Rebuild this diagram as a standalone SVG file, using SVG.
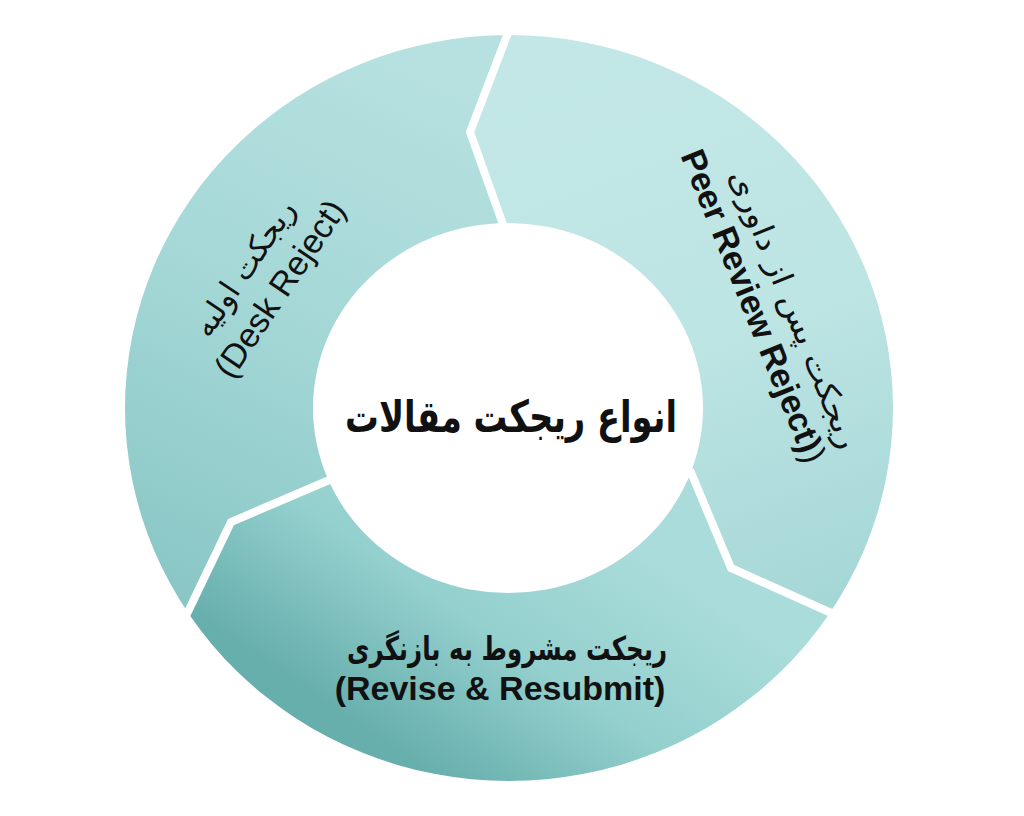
<svg xmlns="http://www.w3.org/2000/svg" width="1024" height="816" viewBox="0 0 1024 816">
  <style>
    .fa { font-family: "DejaVu Sans", "Noto Sans", sans-serif; fill: #111; }
    .en { font-family: "Liberation Sans", Arial, sans-serif; fill: #111; }
    .b { font-weight: bold; }
    .gap { fill: none; stroke: #ffffff; stroke-width: 8; stroke-linejoin: miter; }
  </style>
  <defs>
    <clipPath id="ring">
      <path clip-rule="evenodd" d="M125,408 a384,373 0 1,0 768,0 a384,373 0 1,0 -768,0 Z M313,408 a195,185 0 1,0 390,0 a195,185 0 1,0 -390,0 Z"/>
    </clipPath>
    <linearGradient id="gA" gradientUnits="userSpaceOnUse" x1="620" y1="60" x2="820" y2="600">
      <stop offset="0" stop-color="#c2e7e6"/>
      <stop offset="0.5" stop-color="#bde5e4"/>
      <stop offset="1" stop-color="#a6d7d7"/>
    </linearGradient>
    <linearGradient id="gB" gradientUnits="userSpaceOnUse" x1="640" y1="550" x2="470" y2="800">
      <stop offset="0" stop-color="#a9dcda"/>
      <stop offset="0.5" stop-color="#94d0ce"/>
      <stop offset="1" stop-color="#67afad"/>
    </linearGradient>
    <linearGradient id="gC" gradientUnits="userSpaceOnUse" x1="420" y1="70" x2="170" y2="600">
      <stop offset="0" stop-color="#b6e1e0"/>
      <stop offset="0.5" stop-color="#a3d7d6"/>
      <stop offset="1" stop-color="#88c6c5"/>
    </linearGradient>
  </defs>

  <rect width="1024" height="816" fill="#ffffff"/>

  <g id="segment-peer-review" clip-path="url(#ring)">
    <path fill="url(#gA)" d="M508,408 L504,223 L470,132 L524,-10 L1024,-10 L1024,700 L731,568 L693,477 Z"/>
  </g>
  <g id="segment-revise" clip-path="url(#ring)">
    <path fill="url(#gB)" d="M508,408 L693,477 L731,568 L1024,700 L1024,816 L0,816 L91,816 L231,522 L327,481 Z"/>
  </g>
  <g id="segment-desk" clip-path="url(#ring)">
    <path fill="url(#gC)" d="M508,408 L327,481 L231,522 L91,816 L0,816 L0,-10 L524,-10 L470,132 L504,223 Z"/>
  </g>

  <g id="connectors">
    <polyline class="gap" points="511,25 470,132 505,230"/>
    <polyline class="gap" points="690,470 731,568 838,616"/>
    <polyline class="gap" points="334,478 231,522 184,620"/>
  </g>

  <g id="center-node">
    <text class="fa b" x="511" y="432" font-size="44" text-anchor="middle" direction="rtl" textLength="332" lengthAdjust="spacingAndGlyphs">انواع ریجکت مقالات</text>
  </g>

  <g id="node-desk-reject" transform="translate(281,286) rotate(-56)">
    <text class="fa" x="-6" y="-30" font-size="31" text-anchor="middle" direction="rtl" textLength="157" lengthAdjust="spacingAndGlyphs">ریجکت اولیه</text>
    <text class="en" x="-3" y="12" font-size="34" text-anchor="middle">(Desk Reject)</text>
  </g>

  <g id="node-peer-review" transform="translate(754,306) rotate(68)">
    <text class="fa" x="18" y="-26" font-size="30" text-anchor="middle" direction="rtl" textLength="298" lengthAdjust="spacingAndGlyphs">ریجکت پس از داوری</text>
    <text class="en b" x="0" y="12" font-size="34" text-anchor="middle">Peer Review Reject)<tspan font-weight="normal">)</tspan></text>
  </g>

  <g id="node-revise">
    <text class="fa b" x="507" y="660" font-size="33" text-anchor="middle" direction="rtl" textLength="320" lengthAdjust="spacingAndGlyphs">ریجکت مشروط به بازنگری</text>
    <text class="en b" x="500" y="700" font-size="34" text-anchor="middle">(Revise &amp; Resubmit)</text>
  </g>
</svg>
